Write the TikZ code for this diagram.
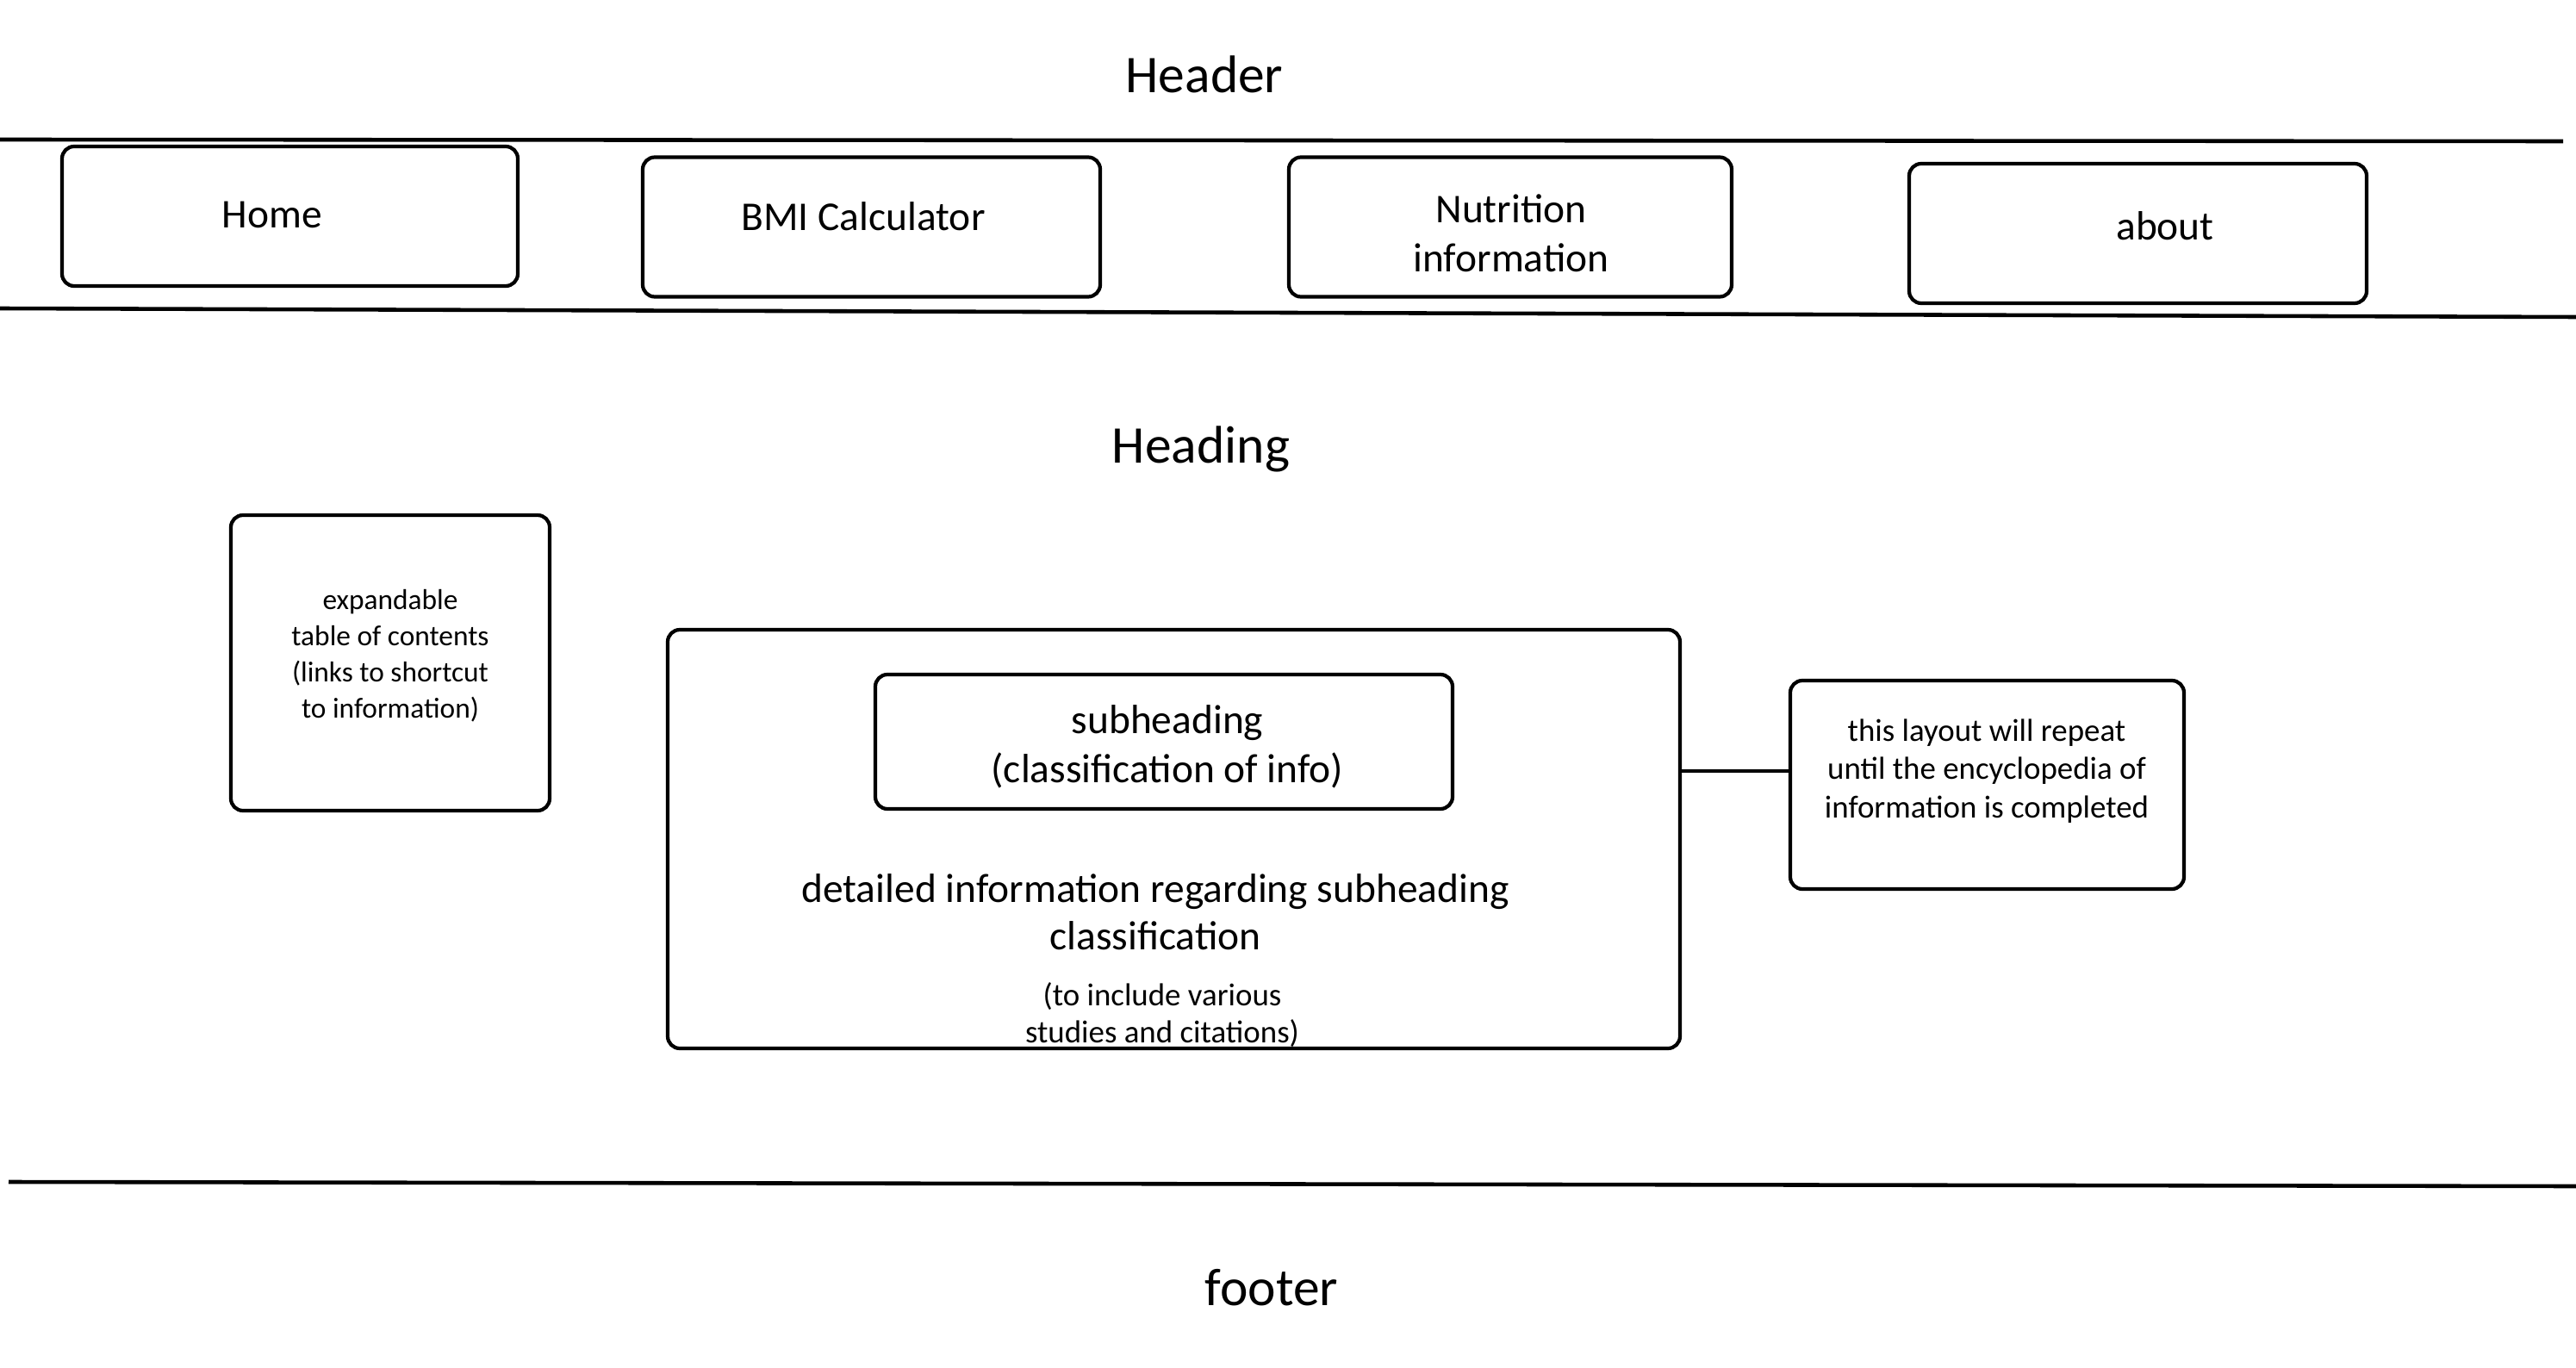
\documentclass[tikz,border=0pt]{standalone}
\usepackage{fontspec}
\setmainfont{Carlito}
\usepackage{tikz}
\usetikzlibrary{calc}

\begin{document}
\begin{tikzpicture}[
  box/.style={draw, line width=1.2pt, rounded corners=4pt, inner sep=0pt, align=center},
  navbox/.style={box, minimum height=1.62cm},
  navtxt/.style={align=center, inner sep=0pt, font=\fontsize{13.5}{16.2}\selectfont},
  bigtxt/.style={inner sep=0pt, font=\fontsize{17.5}{21}\selectfont},
  smalltxt/.style={align=center, inner sep=0pt, font=\fontsize{10.5}{12.7}\selectfont},
  rule/.style={line width=1.3pt}
]
\useasboundingbox (0,0) rectangle (29.9,-15.88);

% Header and menu bar
\node[bigtxt] (header) at (13.98,-0.86) {Header};
\coordinate (topl) at (0,-1.62);
\coordinate (topr) at (29.75,-1.64);
\draw[rule] (topl) -- (topr);
\foreach \x/\y/\w/\tx/\ty/\name/\txt in {3.365/-2.51/5.29/3.16/-2.49/home/Home,
    10.115/-2.635/5.31/10.02/-2.51/bmi/BMI Calculator,
    17.53/-2.635/5.14/17.54/-2.71/nutri/{Nutrition\\information},
    24.815/-2.71/5.31/25.13/-2.62/about/about} {
  \node[navbox, minimum width=\w cm] (\name) at (\x,\y) {};
  \node[navtxt] (\name txt) at (\tx,\ty) {\txt};
}
\coordinate (navl) at (0,-3.58);
\coordinate (navr) at (29.9,-3.68);
\draw[rule] (navl) -- (navr);

% Page body
\node[bigtxt] (heading) at (13.94,-5.21) {Heading};
\node[box, minimum width=3.70cm, minimum height=3.43cm] (toc) at (4.53,-7.695) {};
\node[align=center, inner sep=0pt, font=\fontsize{9.5}{12}\selectfont] (toctxt) at (4.53,-7.61)
  {expandable\\table of contents\\(links to shortcut\\to information)};

\node[box, minimum width=11.75cm, minimum height=4.86cm] (main) at (13.625,-9.74) {};
\node[box, minimum width=6.70cm, minimum height=1.56cm] (sub) at (13.51,-8.61) {};
\node[navtxt] (subtxt) at (13.55,-8.67) {subheading\\(classification of info)};
\node[align=center, inner sep=0pt, font=\fontsize{13.5}{15.6}\selectfont] (detail) at (13.41,-10.59)
  {detailed information regarding subheading\\classification};
\node[smalltxt, font=\fontsize{10.5}{12.2}\selectfont] (cite) at (13.49,-11.78)
  {(to include various\\studies and citations)};

% Repeat note
\node[box, minimum width=4.57cm, minimum height=2.42cm] (note) at (23.065,-9.11) {};
\node[smalltxt] (notetxt) at (23.06,-8.95)
  {this layout will repeat\\until the encyclopedia of\\information is completed};
\draw[rule] (main.east |- notetxt) -- (note.west |- notetxt);

% Footer
\coordinate (footl) at (0.1,-13.72);
\coordinate (footr) at (29.9,-13.77);
\draw[rule] (footl) -- (footr);
\node[bigtxt] (footer) at (14.76,-14.95) {footer};
\end{tikzpicture}
\end{document}
